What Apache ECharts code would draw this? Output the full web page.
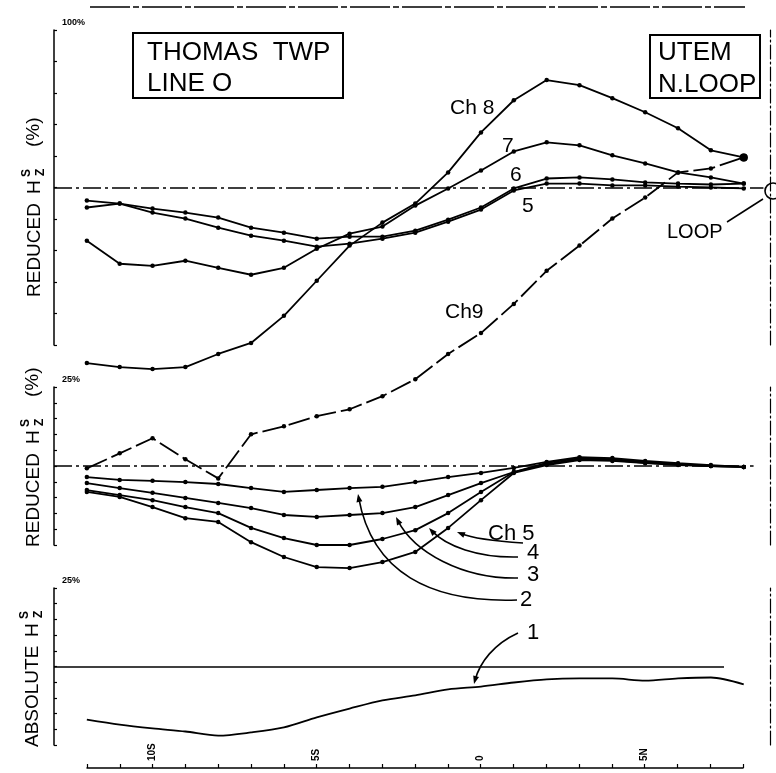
<!DOCTYPE html>
<html><head><meta charset="utf-8">
<script src="https://cdn.jsdelivr.net/npm/echarts@6/dist/echarts.min.js"></script>
<style>html,body{margin:0;padding:0;background:#fff}#c{width:776px;height:773px}</style>
</head><body><div id="c"></div>
<script>
// stations along Line O (S negative, N positive)
const stations = [-12,-11,-10,-9,-8,-7,-6,-5,-4,-3,-2,-1,0,1,2,3,4,5,6,7,8];
const tickValues = [-10,-5,0,5];
const tickLabels = ['10S','5S','0','5N'];

// top panel: reduced Hz (%), scale -100..100
const ch5Top = [-12.7,-10.2,-15.9,-19.7,-25.5,-30.6,-33.8,-37.6,-35.7,-32.5,-28.7,-21.7,-14.0,-1.9,2.5,2.5,1.3,1.3,0.6,0.0,-0.6];
const ch6Top = [-8.3,-10.2,-13.4,-15.9,-19.1,-25.5,-28.7,-32.5,-31.2,-31.2,-27.4,-20.4,-12.7,-0.6,5.7,6.4,5.1,3.2,2.5,1.9,2.5];
const ch7Top = [-33.8,-48.4,-49.7,-46.5,-51.0,-55.4,-51.0,-38.9,-29.3,-24.8,-11.5,-0.6,10.8,22.9,28.7,26.8,20.4,15.3,9.6,6.4,2.5];
const ch8Top = [-111.5,-114.0,-115.3,-114.0,-105.7,-98.7,-81.5,-59.2,-36.9,-22.3,-10.2,9.6,35.0,55.4,68.2,65.0,56.7,47.8,37.6,23.6,19.1];
const ch9Top = [-178.3,-168.8,-159.2,-172.6,-184.7,-156.7,-151.6,-145.2,-140.8,-132.5,-121.7,-105.7,-92.4,-73.9,-52.9,-36.9,-19.7,-6.4,9.6,12.1,19.1];

// middle panel: reduced Hz (%), scale -25..25
const ch2Mid = [-3.5,-4.4,-4.7,-5.1,-5.7,-7.0,-8.2,-7.6,-7.0,-6.6,-5.1,-3.5,-2.2,-0.6,1.3,2.8,2.5,1.6,0.9,0.3,-0.3];
const ch3Mid = [-5.4,-7.0,-8.5,-10.1,-11.7,-13.3,-15.5,-16.1,-15.5,-14.9,-13.0,-9.2,-5.4,-1.9,1.0,2.5,2.2,1.3,0.6,0.0,-0.3];
const ch4Mid = [-7.6,-9.2,-10.8,-13.0,-14.9,-19.6,-22.8,-25.0,-25.0,-23.1,-20.3,-14.9,-8.2,-1.9,0.6,2.2,1.9,1.0,0.6,0.0,-0.3];
const ch5Mid = [-8.2,-9.8,-13.0,-16.5,-17.7,-24.1,-28.8,-32.0,-32.3,-30.4,-27.2,-19.6,-10.8,-2.2,0.3,1.9,1.6,0.9,0.3,0.0,-0.3];

// bottom panel: absolute Hz, scale -25..25
const ch1Abs = [-16.9,-18.5,-19.7,-20.7,-22.0,-21.0,-19.4,-16.2,-13.4,-10.8,-9.2,-7.3,-6.4,-5.1,-4.1,-3.8,-3.8,-4.5,-3.8,-3.5,-5.7];

const pts = vals => vals.map((v, i) => [stations[i], v]);
const FONT = '"Liberation Sans", Arial, sans-serif';
const BLACK = '#000';

function lineSeries(name, vals, xi, yi, extra) {
  return Object.assign({
    name, type: 'line', xAxisIndex: xi, yAxisIndex: yi, data: pts(vals),
    clip: false, symbol: 'circle', symbolSize: 4.5, showSymbol: true,
    itemStyle: { color: BLACK }, lineStyle: { color: BLACK, width: 1.8 },
    emphasis: { disabled: true }, z: 3
  }, extra || {});
}
function zeroLine(x2, type, width) {
  return {
    silent: true, symbol: ['none', 'none'], label: { show: false },
    lineStyle: { color: BLACK, width: width, type: type },
    data: [[{ coord: [-13, 0] }, { coord: [x2, 0] }]]
  };
}
function leftAxis(gi, min, max, interval, label) {
  return {
    type: 'value', gridIndex: gi, min, max, interval,
    axisLine: { show: true, onZero: false, lineStyle: { color: BLACK, width: 1.5 } },
    axisTick: { show: true, inside: true, length: 3, lineStyle: { color: BLACK, width: 1.2 } },
    axisLabel: { show: false }, splitLine: { show: false },
    name: label, nameLocation: 'end', nameGap: 3,
    nameTextStyle: { align: 'left', verticalAlign: 'bottom', fontSize: 9, fontWeight: 'bold', color: BLACK, fontFamily: FONT, padding: [0, 0, 0, 8] }
  };
}
function rightAxis(gi) {
  return {
    type: 'value', gridIndex: gi, position: 'right', min: 0, max: 1,
    axisLine: { show: true, onZero: false, lineStyle: { color: BLACK, width: 1.2, type: [14, 3, 2, 3] } },
    axisTick: { show: false }, axisLabel: { show: false }, splitLine: { show: false }
  };
}
function hiddenX(gi) {
  return { type: 'value', gridIndex: gi, min: -13, max: 8.8, show: false };
}
function txt(s, x, y, size, extra) {
  return { type: 'text', silent: true, style: Object.assign({ text: s, x, y, font: size + 'px ' + FONT, fill: BLACK, verticalAlign: 'middle', align: 'left' }, extra || {}) };
}
function yTitle(x0, y0, word, hAt, szAt, pctAt) {
  const ch = [
    txt(word, 0, 0, 19),
    txt('H', hAt, 0, 19),
    txt('S', szAt, -8, 12, { fontWeight: 'bold' }),
    txt('Z', szAt + 1, 6, 11, { fontWeight: 'bold' })
  ];
  if (pctAt) ch.push(txt('(%)', pctAt, -1, 19));
  return { type: 'group', x: x0, y: y0, rotation: Math.PI / 2, silent: true, children: ch };
}
function leader(x1, y1, c1x, c1y, c2x, c2y, x2, y2) {
  const dx = x2 - c2x, dy = y2 - c2y, L = Math.hypot(dx, dy) || 1;
  const ux = dx / L, uy = dy / L, px = -uy, py = ux, a = 8, w = 3;
  return [
    { type: 'bezierCurve', silent: true, shape: { x1, y1, cpx1: c1x, cpy1: c1y, cpx2: c2x, cpy2: c2y, x2: x2 - ux * 4, y2: y2 - uy * 4 }, style: { stroke: BLACK, lineWidth: 1.6, fill: null } },
    { type: 'polygon', silent: true, shape: { points: [[x2, y2], [x2 - ux * a + px * w, y2 - uy * a + py * w], [x2 - ux * a - px * w, y2 - uy * a - py * w]] }, style: { fill: BLACK } }
  ];
}

const chart = echarts.init(document.getElementById('c'), null, { renderer: 'canvas' });
const option = {
  backgroundColor: '#fff',
  animation: false,
  grid: [
    { left: 54, right: 6, top: 30, height: 315 },
    { left: 54, right: 6, top: 387, height: 158 },
    { left: 54, right: 6, top: 588, height: 157 },
    { left: 87, right: 33, top: 748, height: 20 }
  ],
  xAxis: [
    hiddenX(0), hiddenX(1), hiddenX(2),
    {
      type: 'value', gridIndex: 3, min: -12, max: 8, interval: 1,
      axisLine: { show: true, onZero: false, lineStyle: { color: BLACK, width: 1.5 } },
      axisTick: { show: true, inside: true, length: 4, lineStyle: { color: BLACK, width: 1.2 } },
      splitLine: { show: false },
      axisLabel: {
        inside: true, rotate: 90, margin: 7, color: BLACK, fontSize: 10, fontWeight: 'bold', fontFamily: FONT,
        formatter: v => { const i = tickValues.indexOf(Math.round(v)); return i >= 0 && Math.abs(v - Math.round(v)) < 1e-6 ? tickLabels[i] : ''; }
      }
    }
  ],
  yAxis: [
    leftAxis(0, -100, 100, 20, '100%'), rightAxis(0),
    leftAxis(1, -25, 25, 5, '25%'), rightAxis(1),
    leftAxis(2, -25, 25, 5, '25%'), rightAxis(2),
    { type: 'value', gridIndex: 3, min: 0, max: 1, show: false }
  ],
  series: [
    lineSeries('Ch 5', ch5Top, 0, 0, { markLine: zeroLine(8.6, [18, 4, 3, 4], 1.6) }),
    lineSeries('Ch 6', ch6Top, 0, 0),
    lineSeries('Ch 7', ch7Top, 0, 0),
    lineSeries('Ch 8', ch8Top, 0, 0, { symbolSize: (v, p) => p.dataIndex === 20 ? 8 : 4.5 }),
    lineSeries('Ch 9', ch9Top, 0, 0, { lineStyle: { color: BLACK, width: 1.8, type: [22, 5] }, symbolSize: (v, p) => p.dataIndex === 20 ? 8 : 4.5 }),
    lineSeries('Ch 2', ch2Mid, 1, 2, { markLine: zeroLine(8.3, [18, 4, 3, 4], 1.5) }),
    lineSeries('Ch 3', ch3Mid, 1, 2),
    lineSeries('Ch 4', ch4Mid, 1, 2),
    lineSeries('Ch 5 ', ch5Mid, 1, 2),
    lineSeries('Ch 1', ch1Abs, 2, 4, { showSymbol: false, smooth: 0.3, markLine: zeroLine(7.4, 'solid', 1.6) })
  ],
  graphic: [
    { type: 'line', silent: true, shape: { x1: 90, y1: 7, x2: 745, y2: 7 }, style: { stroke: BLACK, lineWidth: 1.5, lineDash: [40, 3, 6, 3] } },
    { type: 'rect', silent: true, shape: { x: 133, y: 33, width: 210, height: 65 }, style: { fill: null, stroke: BLACK, lineWidth: 2 } },
    txt('THOMAS  TWP', 147, 53, 26),
    txt('LINE O', 147, 84, 26),
    { type: 'rect', silent: true, shape: { x: 650, y: 35, width: 110, height: 63 }, style: { fill: null, stroke: BLACK, lineWidth: 2 } },
    txt('UTEM', 658, 53, 26),
    txt('N.LOOP', 658, 85, 26),
    txt('Ch 8', 450, 108, 21),
    txt('7', 502, 146, 21),
    txt('6', 510, 175, 21),
    txt('5', 522, 206, 21),
    txt('Ch9', 445, 312, 21),
    txt('LOOP', 667, 232, 20),
    { type: 'circle', silent: true, shape: { cx: 773, cy: 191, r: 8 }, style: { fill: null, stroke: BLACK, lineWidth: 1.6 } },
    { type: 'line', silent: true, shape: { x1: 727, y1: 222, x2: 763, y2: 199 }, style: { stroke: BLACK, lineWidth: 1.5 } },
    txt('Ch 5', 488, 534, 22),
    txt('4', 527, 553, 22),
    txt('3', 527, 575, 22),
    txt('2', 520, 600, 22),
    txt('1', 527, 633, 22),
    ...leader(523, 543, 492, 541, 472, 538, 457, 532),
    ...leader(518, 557, 478, 558, 446, 546, 429, 528),
    ...leader(518, 578, 462, 579, 414, 552, 396, 517),
    ...leader(517, 600, 430, 603, 372, 572, 358, 494),
    ...leader(518, 633, 494, 644, 480, 662, 474, 684),
    yTitle(35, 297, 'REDUCED', 103, 120, 150),
    yTitle(34, 547, 'REDUCED', 103, 120, 150),
    yTitle(33, 747, 'ABSOLUTE', 110, 128, 0)
  ]
};
chart.setOption(option);
</script>
</body></html>
